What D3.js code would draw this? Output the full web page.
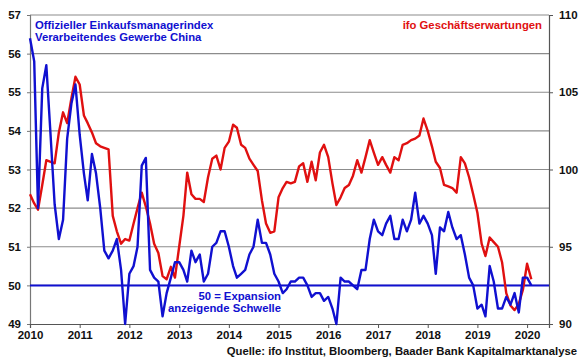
<!DOCTYPE html>
<html>
<head>
<meta charset="utf-8">
<script src="https://cdn.jsdelivr.net/npm/d3@7"></script>
<style>
body{margin:0;background:#fff;}
svg{display:block;font-family:"Liberation Sans",Arial,sans-serif;font-weight:bold;}
</style>
</head>
<body>
<svg id="chart" width="580" height="359"></svg>
<script>
// Monthly observations, Dec 2009 .. Jan 2020
const firstMonth = new Date(2009, 11, 1);
const lastMonth = new Date(2020, 0, 1);

const chinaPMI = [
  56.4,
  55.8, 52.0, 55.1, 55.7, 53.9, 52.1, 51.2, 51.7, 53.8, 54.7, 55.2, 53.9,
  52.9, 52.2, 53.4, 52.9, 52.0, 50.9, 50.7, 50.9, 51.2, 50.4, 49.0, 50.3,
  50.5, 51.0, 53.1, 53.3, 50.4, 50.2, 50.1, 49.2, 49.8, 50.2, 50.6, 50.6,
  50.4, 50.1, 50.9, 50.6, 50.8, 50.1, 50.3, 51.0, 51.1, 51.4, 51.4, 51.0,
  50.5, 50.2, 50.3, 50.4, 50.8, 51.0, 51.7, 51.1, 51.1, 50.8, 50.3, 50.1,
  49.8, 49.9, 50.1, 50.1, 50.2, 50.2, 50.0, 49.7, 49.8, 49.8, 49.6, 49.7,
  49.4, 49.0, 50.2, 50.1, 50.1, 50.0, 49.9, 50.4, 50.4, 51.2, 51.7, 51.4,
  51.3, 51.6, 51.8, 51.2, 51.2, 51.7, 51.4, 51.7, 52.4, 51.6, 51.8, 51.6,
  51.3, 50.3, 51.5, 51.4, 51.9, 51.5, 51.2, 51.3, 50.8, 50.2, 50.0, 49.4,
  49.5, 49.2, 50.5, 50.1, 49.4, 49.4, 49.7, 49.5, 49.8, 49.3, 50.2, 50.2,
  50.0
];

const ifoExpectations = [
  98.4,
  97.8, 97.4, 99.0, 100.6, 100.5, 100.4, 102.4, 103.7, 103.0, 104.6, 106.0, 105.5,
  103.5, 103.0, 102.4, 101.7, 101.5, 101.4, 101.3, 97.0, 96.0, 95.2, 95.5, 95.4,
  96.5, 97.5, 98.5, 97.6, 96.5, 95.2, 94.6, 93.1, 92.9, 93.7, 93.0, 95.0,
  97.0, 99.8, 98.4, 98.1, 98.1, 97.9, 99.5, 100.7, 100.9, 100.0, 101.4, 101.8,
  102.9, 102.7, 101.6, 101.4, 100.7, 100.3, 99.9, 98.0, 96.5, 95.9, 96.0, 98.2,
  98.8, 99.2, 99.1, 99.2, 100.2, 100.4, 99.2, 100.5, 99.3, 101.1, 101.6, 100.8,
  99.1, 97.7, 98.2, 98.8, 99.0, 99.6, 100.6, 99.8, 100.8, 101.9, 101.1, 100.3,
  100.8, 100.3, 99.8, 100.8, 100.6, 101.6, 101.7, 101.9, 102.0, 102.2, 103.3, 102.5,
  101.5, 100.5, 100.1, 99.0, 98.9, 98.8, 98.5, 100.8, 100.4, 99.5, 98.4, 97.2,
  95.2, 94.4, 95.6, 95.3, 95.0, 94.0, 92.0, 91.2, 90.9, 91.3, 92.2, 93.9,
  92.9
];

const yearTicks = [2010, 2011, 2012, 2013, 2014, 2015, 2016, 2017, 2018, 2019, 2020];
const leftTicks = [49, 50, 51, 52, 53, 54, 55, 56, 57];
const rightTicks = [90, 95, 100, 105, 110];
const threshold = 50;

const labelPMI = ["Offizieller Einkaufsmanagerindex", "Verarbeitendes Gewerbe China"];
const labelIfo = "ifo Geschäftserwartungen";
const labelThreshold = ["50 = Expansion", "anzeigende Schwelle"];
const sourceText = "Quelle: ifo Institut, Bloomberg, Baader Bank Kapitalmarktanalyse";

// ---------- drawing ----------
const svg = d3.select("#chart");
const m = {left: 30, right: 549, top: 15, bottom: 324};

const months = d3.timeMonth.range(firstMonth, d3.timeMonth.offset(lastMonth, 1));
// values are plotted at month end
const dates = months.map(d => d3.timeMonth.offset(d, 1));

const x = d3.scaleTime()
  .domain([new Date(2010, 0, 1), new Date(2020, 5, 10)])
  .range([m.left, m.right]);
const yL = d3.scaleLinear().domain([49, 57]).range([m.bottom, m.top]);
const yR = d3.scaleLinear().domain([90, 110]).range([m.bottom, m.top]);

const blue = "#1010d0";
const red = "#e01010";

// gridlines
svg.append("g").selectAll("line")
  .data(leftTicks.filter(v => v > 49))
  .join("line")
  .attr("x1", m.left).attr("x2", m.right)
  .attr("y1", d => yL(d)).attr("y2", d => yL(d))
  .attr("stroke", "#8c8c8c").attr("stroke-width", 1.2);

// left axis
const axL = svg.append("g")
  .attr("transform", `translate(${m.left},0)`)
  .call(d3.axisLeft(yL).tickValues(leftTicks).tickSize(3).tickPadding(6).tickFormat(d3.format("d")));
axL.select(".domain").attr("stroke", "#777").attr("stroke-width", 1.2);
axL.selectAll(".tick line").attr("stroke", "#777");
axL.selectAll("text").attr("font-size", 11.5).attr("font-family", "Liberation Sans, Arial, sans-serif")
  .attr("font-weight", "bold").attr("fill", "#111");

// right axis
const axR = svg.append("g")
  .attr("transform", `translate(${m.right},0)`)
  .call(d3.axisRight(yR).tickValues(rightTicks).tickSize(4).tickPadding(6).tickFormat(d3.format("d")));
axR.select(".domain").attr("stroke", "#555").attr("stroke-width", 1.2);
axR.selectAll(".tick line").attr("stroke", "#555");
axR.selectAll("text").attr("font-size", 11.5).attr("font-family", "Liberation Sans, Arial, sans-serif")
  .attr("font-weight", "bold").attr("fill", "#111");

// bottom axis
const axB = svg.append("g")
  .attr("transform", `translate(0,${m.bottom})`)
  .call(d3.axisBottom(x).tickValues(yearTicks.map(y => new Date(y, 0, 1))).tickSize(4).tickPadding(3)
    .tickFormat(d3.timeFormat("%Y")));
axB.select(".domain").attr("stroke", "#555").attr("stroke-width", 1.2);
axB.selectAll(".tick line").attr("stroke", "#555");
axB.selectAll("text").attr("font-size", 11.5).attr("font-family", "Liberation Sans, Arial, sans-serif")
  .attr("font-weight", "bold").attr("fill", "#111");

// threshold line
svg.append("line")
  .attr("x1", m.left).attr("x2", m.right)
  .attr("y1", yL(threshold)).attr("y2", yL(threshold))
  .attr("stroke", blue).attr("stroke-width", 2);

// series
const lineL = d3.line().x((d, i) => x(dates[i])).y(d => yL(d));
const lineR = d3.line().x((d, i) => x(dates[i])).y(d => yR(d));

svg.append("path").datum(ifoExpectations)
  .attr("d", lineR).attr("fill", "none")
  .attr("stroke", red).attr("stroke-width", 2.4).attr("stroke-linejoin", "round");

svg.append("path").datum(chinaPMI)
  .attr("d", lineL).attr("fill", "none")
  .attr("stroke", blue).attr("stroke-width", 2.4).attr("stroke-linejoin", "round");

// labels
svg.append("text").attr("x", 35).attr("y", 28.5)
  .attr("font-size", 11.3).attr("fill", blue).text(labelPMI[0]);
svg.append("text").attr("x", 35).attr("y", 41)
  .attr("font-size", 11.3).attr("fill", blue).text(labelPMI[1]);

svg.append("text").attr("x", 542).attr("y", 29).attr("text-anchor", "end")
  .attr("font-size", 11.3).attr("fill", red).text(labelIfo);

svg.append("text").attr("x", 281).attr("y", 300).attr("text-anchor", "end")
  .attr("font-size", 11.3).attr("fill", blue).text(labelThreshold[0]);
svg.append("text").attr("x", 281).attr("y", 312).attr("text-anchor", "end")
  .attr("font-size", 11.3).attr("fill", blue).text(labelThreshold[1]);

svg.append("text").attr("x", 577).attr("y", 355).attr("text-anchor", "end")
  .attr("font-size", 11.3).attr("fill", "#111").text(sourceText);
</script>
</body>
</html>
